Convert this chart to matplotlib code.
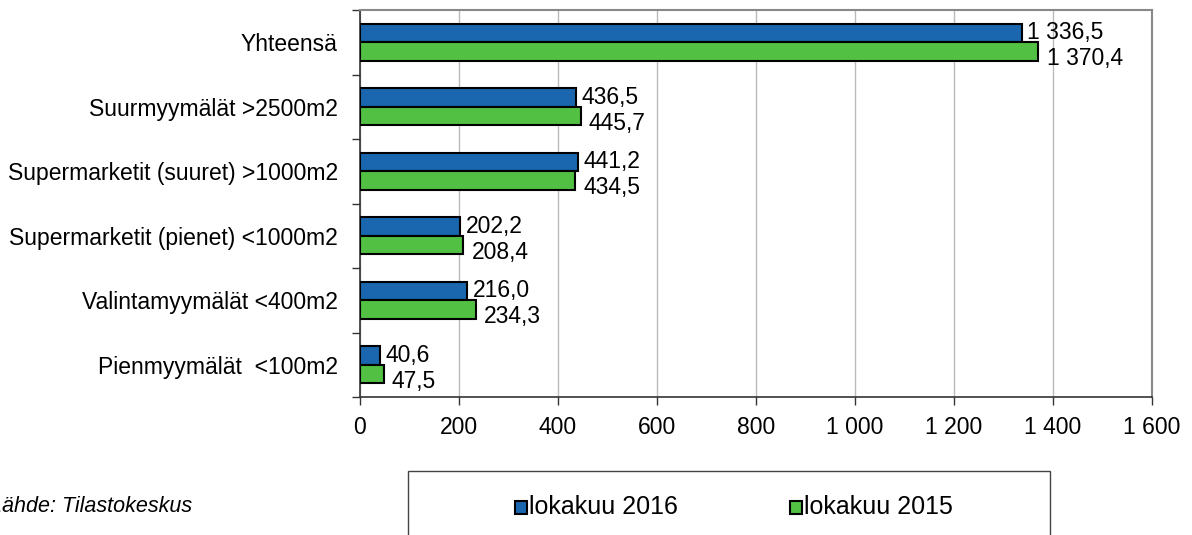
import matplotlib.pyplot as plt
from matplotlib.patches import Rectangle
import numpy as np

plt.rcParams['font.family'] = ['Liberation Sans', 'DejaVu Sans']

# Data (top to bottom as shown)
categories = ['Yhteensä', 'Suurmyymälät >2500m2', 'Supermarketit (suuret) >1000m2',
              'Supermarketit (pienet) <1000m2', 'Valintamyymälät <400m2', 'Pienmyymälät  <100m2']
values_2016 = [1336.5, 436.5, 441.2, 202.2, 216.0, 40.6]
values_2015 = [1370.4, 445.7, 434.5, 208.4, 234.3, 47.5]
series_names = ['lokakuu 2016', 'lokakuu 2015']
xticks = [0, 200, 400, 600, 800, 1000, 1200, 1400, 1600]

blue = '#1a67b0'
green = '#52c043'
fs = 16.5


def fi_fmt(v, decimals=1):
    s = f'{v:,.{decimals}f}'
    return s.replace(',', ' ').replace('.', ',')


fig = plt.figure(figsize=(11.92, 5.35), dpi=100)
ax = fig.add_axes([360 / 1192, 1 - 397 / 535, 792 / 1192, 387 / 535])

n = len(categories)
y = np.arange(n)
h = 0.29
ax.barh(y - h / 2, values_2016, height=h, color=blue, edgecolor='black', linewidth=1.5, zorder=3)
ax.barh(y + h / 2, values_2015, height=h, color=green, edgecolor='black', linewidth=1.5, zorder=3)

for i in range(n):
    ax.annotate(fi_fmt(values_2016[i]), (values_2016[i], y[i] - h / 2), xytext=(4, 0),
                textcoords='offset points', va='center', ha='left', fontsize=fs, zorder=4)
    ax.annotate(fi_fmt(values_2015[i]), (values_2015[i], y[i] + h / 2), xytext=(6, -5),
                textcoords='offset points', va='center', ha='left', fontsize=fs, zorder=4)

ax.set_xlim(0, 1600)
ax.set_ylim(n - 0.5, -0.5)
ax.set_xticks(xticks)
ax.set_xticklabels([fi_fmt(t, 0) for t in xticks], fontsize=fs)
ax.set_yticks(y)
ax.set_yticklabels(categories, fontsize=fs)
ax.tick_params(axis='y', length=0, pad=16)
ax.set_yticks(np.arange(n + 1) - 0.5, minor=True)
ax.tick_params(axis='y', which='minor', length=6, width=1, color='#333333')
ax.tick_params(axis='x', length=6, width=1, color='#333333', pad=8)
ax.grid(axis='x', color='#bbbbbb', linewidth=1, zorder=0)

for side in ['top', 'right']:
    ax.spines[side].set_color('#888888')
    ax.spines[side].set_linewidth(1.5)
for side in ['left', 'bottom']:
    ax.spines[side].set_color('#333333')
    ax.spines[side].set_linewidth(1.2)

# source note
fig.text(-10 / 1192, 1 - 506 / 535, 'Lähde: Tilastokeskus', fontsize=15.5, style='italic', va='center')

# legend box
fig.patches.append(Rectangle((408 / 1192, -0.05), 642 / 1192, 0.05 + 1 - 471 / 535,
                             transform=fig.transFigure, facecolor='white', edgecolor='#444444', linewidth=1))
for x0, color, name in [(515, blue, series_names[0]), (790, green, series_names[1])]:
    fig.patches.append(Rectangle((x0 / 1192, 1 - 514 / 535), 12 / 1192, 13 / 535, transform=fig.transFigure,
                                 facecolor=color, edgecolor='black', linewidth=1.5))
    fig.text((x0 + 14) / 1192, 1 - 507 / 535, name, fontsize=18, va='center')

fig.savefig('out.png', dpi=100)
